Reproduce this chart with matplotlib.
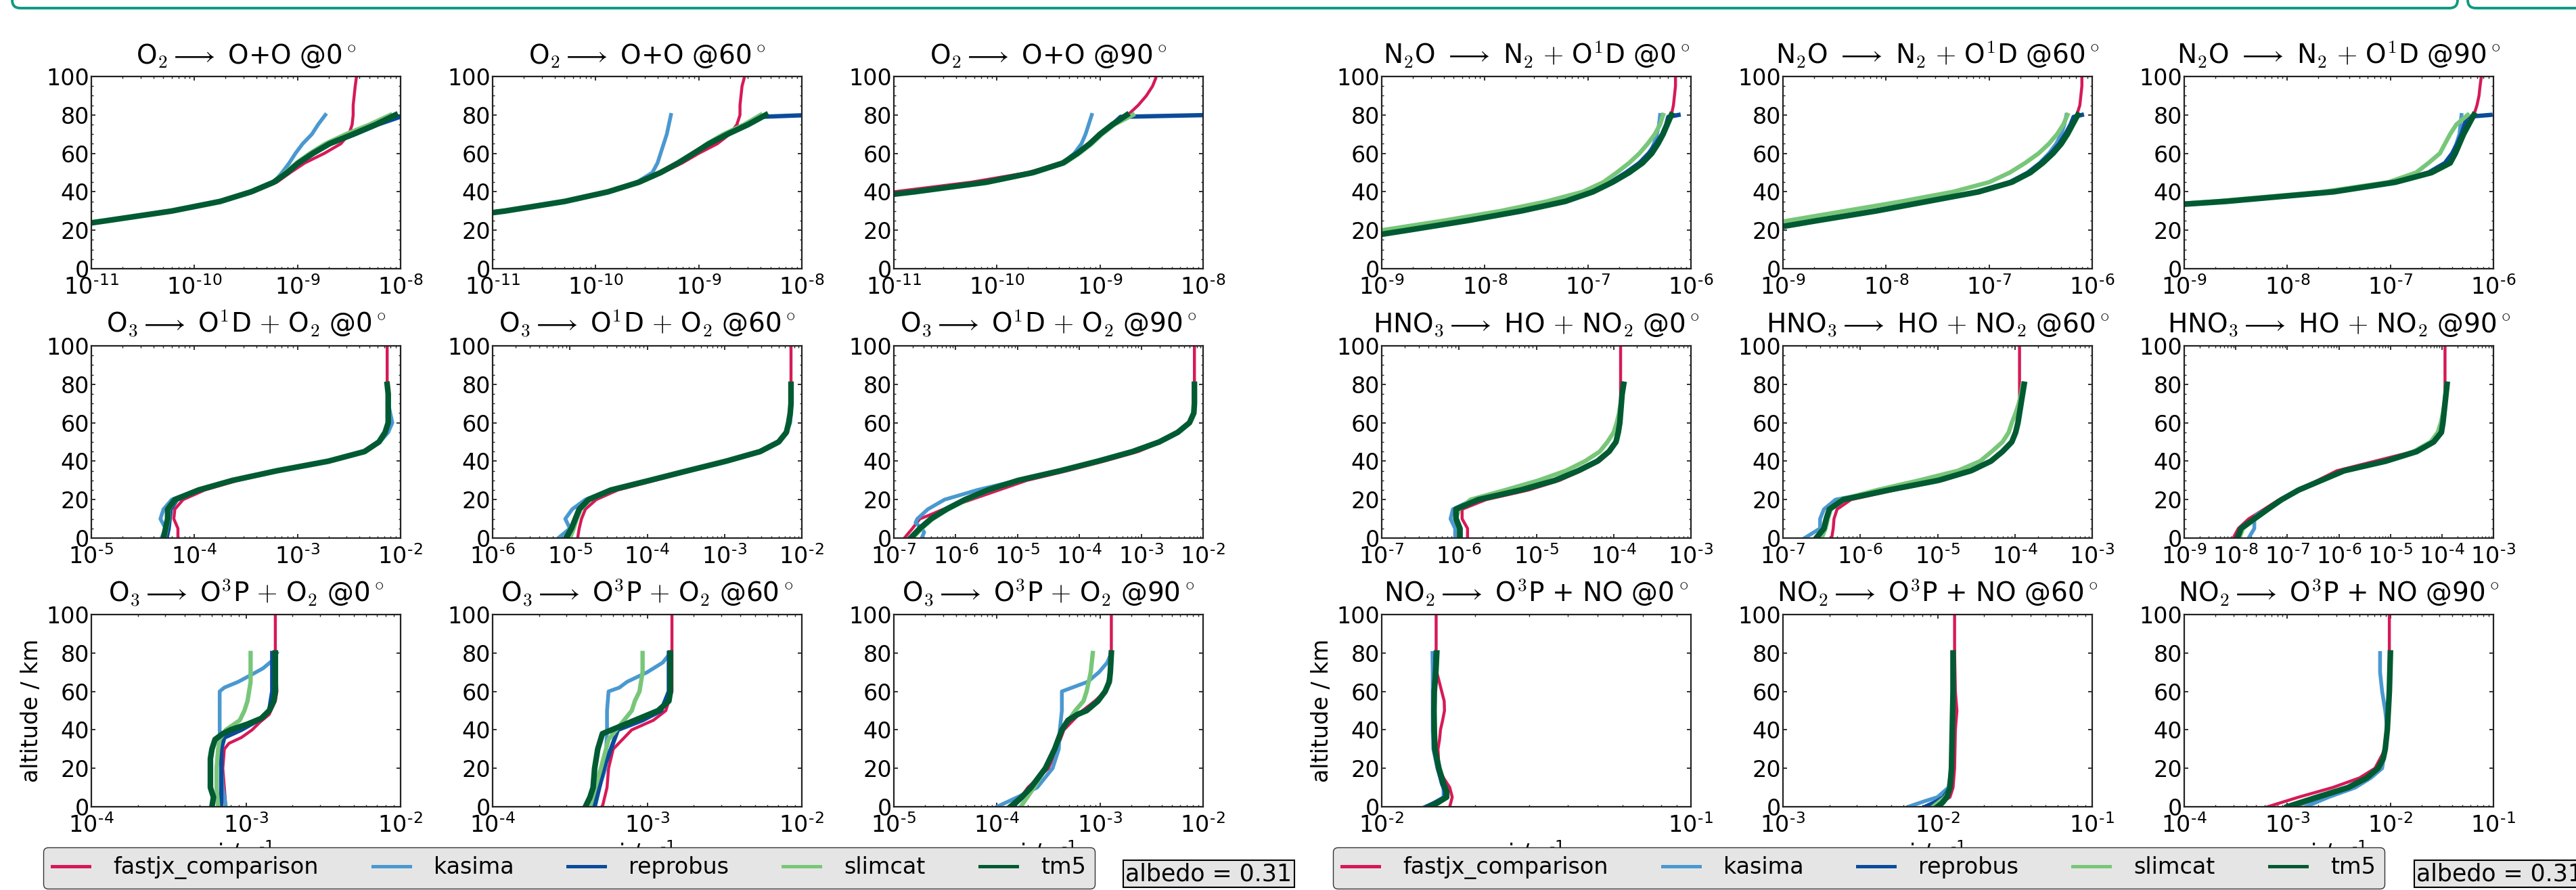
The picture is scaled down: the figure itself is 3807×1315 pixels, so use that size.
import matplotlib
matplotlib.use("Agg")
import matplotlib.pyplot as plt
import numpy as np
from matplotlib.patches import FancyBboxPatch
from matplotlib.lines import Line2D
from matplotlib.ticker import LogLocator, MultipleLocator, FuncFormatter, NullFormatter

plt.rcParams.update({'font.family': ['DejaVu Sans'], 'mathtext.fontset': 'cm',
                     'font.size': 24, 'axes.unicode_minus': False})

models = ['fastjx_comparison', 'kasima', 'reprobus', 'slimcat', 'tm5']
colors = ['#d61a57', '#4a98d0', '#0b4c9a', '#78c679', '#005a32']
widths = [3.2, 4.0, 4.6, 4.6, 6.0]

# altitude grids (km)
A0 = [0, 5, 10, 15, 20, 25, 30, 35, 40, 45, 50, 55, 60, 65, 70, 75, 80]
TOP = [85, 90, 95, 99]
A10 = A0[2:]
A15 = A0[3:]
A25 = A0[5:]
A30 = A0[6:]

# values are log10(j / s^-1)
o2_0 = {
    'fastjx_comparison': (A15 + TOP, [-12.05, -11.45, -10.8, -10.18, -9.72, -9.42, -9.2, -9.07, -8.93, -8.74, -8.58, -8.5, -8.47, -8.46, -8.46, -8.45, -8.44, -8.43]),
    'kasima': (A15, [-12.1, -11.5, -10.85, -10.22, -9.75, -9.45, -9.23, -9.15, -9.08, -9.02, -8.95, -8.86, -8.8, -8.73]),
    'reprobus': (A15, [-12.1, -11.5, -10.85, -10.22, -9.75, -9.45, -9.23, -9.1, -8.99, -8.85, -8.68, -8.44, -8.22, -7.95]),
    'slimcat': (A15, [-12.1, -11.5, -10.85, -10.22, -9.75, -9.45, -9.24, -9.12, -9.01, -8.88, -8.73, -8.53, -8.3, -8.1]),
    'tm5': (A15, [-12.1, -11.5, -10.85, -10.22, -9.75, -9.45, -9.23, -9.1, -8.99, -8.85, -8.69, -8.46, -8.24, -8.05]),
}
o2_60 = {
    'fastjx_comparison': (A15 + TOP, [-12.95, -12.25, -11.55, -10.85, -10.27, -9.85, -9.56, -9.35, -9.16, -9.0, -8.82, -8.7, -8.63, -8.6, -8.6, -8.59, -8.58, -8.56]),
    'kasima': (A15, [-13.0, -12.3, -11.6, -10.88, -10.3, -9.88, -9.6, -9.45, -9.4, -9.37, -9.34, -9.31, -9.29, -9.27]),
    'reprobus': (A15[:-1] + [79, 80], [-13.0, -12.3, -11.6, -10.88, -10.3, -9.88, -9.58, -9.37, -9.2, -9.05, -8.9, -8.72, -8.52, -8.4, -7.9]),
    'slimcat': (A15, [-13.0, -12.3, -11.6, -10.88, -10.3, -9.88, -9.58, -9.37, -9.2, -9.05, -8.92, -8.76, -8.56, -8.4]),
    'tm5': (A15, [-13.0, -12.3, -11.6, -10.88, -10.3, -9.88, -9.58, -9.37, -9.2, -9.05, -8.9, -8.72, -8.52, -8.35]),
}
o2_90 = {
    'fastjx_comparison': (A30 + TOP, [-12.7, -11.8, -11.0, -10.25, -9.7, -9.38, -9.22, -9.1, -8.98, -8.86, -8.73, -8.63, -8.55, -8.49, -8.46]),
    'kasima': (A30, [-12.5, -11.6, -10.8, -10.1, -9.65, -9.36, -9.25, -9.18, -9.14, -9.11, -9.08]),
    'reprobus': (A30[:-1] + [79, 80], [-12.5, -11.6, -10.8, -10.1, -9.65, -9.36, -9.22, -9.1, -9.0, -8.88, -8.8, -7.9]),
    'slimcat': (A30, [-12.5, -11.6, -10.8, -10.1, -9.63, -9.34, -9.2, -9.08, -8.98, -8.86, -8.68]),
    'tm5': (A30, [-12.5, -11.6, -10.8, -10.1, -9.65, -9.36, -9.22, -9.1, -9.0, -8.88, -8.74]),
}
n2o_0 = {
    'fastjx_comparison': (A10 + TOP, [-9.85, -9.3, -8.7, -8.12, -7.6, -7.2, -6.94, -6.76, -6.62, -6.5, -6.41, -6.33, -6.27, -6.22, -6.19, -6.17, -6.16, -6.15, -6.15]),
    'kasima': (A10, [-9.9, -9.35, -8.75, -8.17, -7.65, -7.22, -6.95, -6.76, -6.62, -6.5, -6.4, -6.36, -6.33, -6.31, -6.3]),
    'reprobus': (A10[:-1] + [79, 80], [-9.9, -9.35, -8.75, -8.17, -7.65, -7.22, -6.96, -6.78, -6.63, -6.5, -6.41, -6.34, -6.28, -6.24, -6.22, -6.12]),
    'slimcat': (A10, [-10.2, -9.6, -9.0, -8.4, -7.85, -7.4, -7.05, -6.85, -6.72, -6.6, -6.5, -6.42, -6.35, -6.3, -6.27]),
    'tm5': (A10, [-9.9, -9.35, -8.75, -8.17, -7.65, -7.22, -6.95, -6.76, -6.6, -6.47, -6.38, -6.32, -6.27, -6.23, -6.19]),
}
n2o_60 = {
    'fastjx_comparison': (A10 + TOP, [-10.15, -9.65, -9.17, -8.62, -8.05, -7.56, -7.08, -6.77, -6.6, -6.48, -6.38, -6.3, -6.24, -6.19, -6.15, -6.12, -6.11, -6.1, -6.1]),
    'kasima': (A10, [-10.2, -9.7, -9.22, -8.67, -8.1, -7.6, -7.1, -6.8, -6.63, -6.51, -6.42, -6.35, -6.3, -6.27, -6.25]),
    'reprobus': (A10[:-1] + [79, 80], [-10.2, -9.7, -9.22, -8.67, -8.1, -7.6, -7.12, -6.8, -6.62, -6.5, -6.4, -6.32, -6.26, -6.21, -6.18, -6.1]),
    'slimcat': (A10, [-10.5, -10.0, -9.5, -8.95, -8.4, -7.85, -7.35, -7.0, -6.8, -6.65, -6.52, -6.42, -6.34, -6.28, -6.24]),
    'tm5': (A10, [-10.2, -9.7, -9.22, -8.67, -8.1, -7.6, -7.1, -6.78, -6.6, -6.48, -6.38, -6.3, -6.24, -6.19, -6.14]),
}
n2o_90 = {
    'fastjx_comparison': (A25 + TOP, [-11.4, -9.9, -8.5, -7.5, -6.93, -6.62, -6.46, -6.38, -6.33, -6.28, -6.23, -6.19, -6.16, -6.14, -6.13, -6.12]),
    'kasima': (A25, [-11.5, -10.0, -8.6, -7.55, -6.97, -6.63, -6.47, -6.4, -6.36, -6.33, -6.32, -6.31]),
    'reprobus': (A25[:-1] + [79, 80], [-11.5, -10.0, -8.6, -7.55, -6.97, -6.63, -6.47, -6.4, -6.35, -6.31, -6.28, -6.26, -6.03]),
    'slimcat': (A25, [-11.6, -10.1, -8.7, -7.65, -7.02, -6.75, -6.63, -6.52, -6.47, -6.42, -6.36, -6.25]),
    'tm5': (A25, [-11.5, -10.0, -8.6, -7.55, -6.95, -6.6, -6.42, -6.37, -6.33, -6.29, -6.24, -6.19]),
}

o3_o1d_0 = {
    'fastjx_comparison': (A0 + TOP, [-4.16, -4.16, -4.2, -4.19, -4.11, -3.9, -3.58, -3.17, -2.68, -2.33, -2.2, -2.15, -2.13, -2.13, -2.13, -2.13, -2.13, -2.13, -2.13, -2.13, -2.13]),
    'kasima': (A0, [-4.32, -4.28, -4.33, -4.30, -4.22, -3.97, -3.64, -3.21, -2.71, -2.36, -2.2, -2.12, -2.08, -2.1, -2.12, -2.12, -2.13]),
    'reprobus': (A0, [-4.27, -4.25, -4.24, -4.23, -4.17, -3.95, -3.62, -3.2, -2.7, -2.35, -2.21, -2.15, -2.12, -2.12, -2.12, -2.12, -2.13]),
    'slimcat': (A0, [-4.29, -4.27, -4.25, -4.25, -4.18, -3.95, -3.62, -3.19, -2.69, -2.35, -2.21, -2.15, -2.12, -2.12, -2.12, -2.12, -2.13]),
    'tm5': (A0, [-4.30, -4.28, -4.26, -4.26, -4.19, -3.96, -3.63, -3.2, -2.7, -2.35, -2.21, -2.15, -2.12, -2.12, -2.12, -2.12, -2.13]),
}
o3_o1d_60 = {
    'fastjx_comparison': (A0 + TOP, [-4.9, -4.88, -4.85, -4.8, -4.66, -4.38, -3.9, -3.43, -2.94, -2.51, -2.28, -2.19, -2.16, -2.15, -2.14, -2.14, -2.14, -2.14, -2.14, -2.14, -2.14]),
    'kasima': (A0, [-5.15, -5.0, -5.06, -4.97, -4.8, -4.49, -3.98, -3.49, -2.99, -2.55, -2.3, -2.2, -2.15, -2.14, -2.14, -2.14, -2.14]),
    'reprobus': (A0, [-5.02, -4.96, -4.92, -4.87, -4.75, -4.46, -3.97, -3.48, -2.98, -2.54, -2.3, -2.2, -2.17, -2.15, -2.14, -2.14, -2.14]),
    'slimcat': (A0, [-5.0, -4.95, -4.91, -4.86, -4.74, -4.45, -3.96, -3.47, -2.97, -2.53, -2.3, -2.2, -2.17, -2.15, -2.14, -2.14, -2.14]),
    'tm5': (A0, [-5.05, -4.98, -4.93, -4.88, -4.76, -4.47, -3.97, -3.48, -2.98, -2.54, -2.3, -2.2, -2.17, -2.15, -2.14, -2.14, -2.14]),
}
o3_o1d_90 = {
    'fastjx_comparison': ([0, 5, 10, 12] + A15 + TOP, [-6.83, -6.7, -6.58, -6.42, -6.2, -5.75, -5.3, -4.85, -4.2, -3.6, -3.05, -2.68, -2.4, -2.22, -2.15, -2.14, -2.14, -2.14, -2.14, -2.14, -2.14, -2.14]),
    'kasima': ([0, 3, 5, 8, 10] + A15, [-6.55, -6.51, -6.55, -6.65, -6.62, -6.45, -6.18, -5.65, -5.0, -4.31, -3.70, -3.14, -2.71, -2.41, -2.22, -2.15, -2.14, -2.14, -2.14]),
    'reprobus': (A0, [-6.71, -6.56, -6.39, -6.14, -5.84, -5.47, -4.98, -4.3, -3.69, -3.13, -2.7, -2.4, -2.22, -2.15, -2.14, -2.14, -2.14]),
    'slimcat': (A0, [-6.7, -6.55, -6.37, -6.12, -5.82, -5.45, -4.96, -4.28, -3.67, -3.12, -2.7, -2.4, -2.22, -2.15, -2.14, -2.14, -2.14]),
    'tm5': (A0, [-6.73, -6.58, -6.40, -6.15, -5.85, -5.48, -4.99, -4.31, -3.70, -3.14, -2.71, -2.41, -2.22, -2.15, -2.14, -2.14, -2.14]),
}
hno3_0 = {
    'fastjx_comparison': (A0 + TOP, [-5.89, -5.89, -5.96, -5.96, -5.65, -5.1, -4.7, -4.42, -4.18, -4.04, -3.96, -3.93, -3.92, -3.91, -3.91, -3.91, -3.91, -3.91, -3.91, -3.91, -3.91]),
    'kasima': (A0, [-6.05, -6.05, -6.11, -6.08, -5.82, -5.22, -4.77, -4.47, -4.22, -4.06, -3.97, -3.94, -3.92, -3.91, -3.9, -3.89, -3.88]),
    'reprobus': (A0, [-5.98, -5.98, -6.03, -6.03, -5.76, -5.21, -4.77, -4.46, -4.21, -4.06, -3.97, -3.94, -3.92, -3.91, -3.9, -3.89, -3.88]),
    'slimcat': (A0, [-6.0, -6.0, -6.04, -6.0, -5.85, -5.4, -4.97, -4.62, -4.37, -4.18, -4.08, -4.0, -3.96, -3.93, -3.91, -3.89, -3.87]),
    'tm5': (A0, [-5.99, -5.99, -6.04, -6.04, -5.75, -5.2, -4.76, -4.46, -4.21, -4.06, -3.97, -3.94, -3.92, -3.91, -3.9, -3.89, -3.87]),
}
hno3_60 = {
    'fastjx_comparison': (A0 + TOP, [-6.37, -6.35, -6.34, -6.3, -6.12, -5.55, -4.93, -4.53, -4.29, -4.15, -4.04, -3.99, -3.96, -3.95, -3.94, -3.94, -3.94, -3.94, -3.94, -3.94, -3.94]),
    'kasima': (A0, [-6.72, -6.52, -6.52, -6.47, -6.32, -5.68, -5.01, -4.58, -4.31, -4.16, -4.04, -3.99, -3.96, -3.94, -3.92, -3.9, -3.89]),
    'reprobus': (A0, [-6.55, -6.46, -6.43, -6.39, -6.21, -5.62, -4.99, -4.57, -4.31, -4.16, -4.04, -3.99, -3.96, -3.94, -3.92, -3.9, -3.89]),
    'slimcat': (A0, [-6.5, -6.45, -6.42, -6.38, -6.25, -5.78, -5.24, -4.74, -4.45, -4.3, -4.16, -4.08, -4.04, -3.99, -3.95, -3.92, -3.9]),
    'tm5': (A0, [-6.57, -6.47, -6.44, -6.4, -6.22, -5.63, -4.99, -4.57, -4.31, -4.16, -4.04, -3.99, -3.96, -3.94, -3.92, -3.9, -3.88]),
}
hno3_90 = {
    'fastjx_comparison': (A0 + TOP, [-8.05, -7.95, -7.75, -7.45, -7.16, -6.78, -6.41, -6.04, -5.3, -4.56, -4.19, -4.05, -4.0, -3.97, -3.95, -3.94, -3.94, -3.94, -3.94, -3.94, -3.94]),
    'kasima': ([0, 5, 10, 12] + A15, [-7.75, -7.64, -7.64, -7.6, -7.4, -7.12, -6.78, -6.34, -5.9, -5.09, -4.49, -4.16, -4.01, -3.98, -3.96, -3.94, -3.92, -3.9]),
    'reprobus': (A0, [-7.95, -7.88, -7.63, -7.37, -7.1, -6.77, -6.33, -5.88, -5.08, -4.5, -4.18, -4.03, -3.99, -3.96, -3.94, -3.92, -3.9]),
    'slimcat': (A0, [-7.93, -7.86, -7.62, -7.36, -7.1, -6.77, -6.33, -5.88, -5.1, -4.55, -4.22, -4.08, -4.02, -3.98, -3.95, -3.93, -3.91]),
    'tm5': (A0, [-7.97, -7.9, -7.64, -7.38, -7.11, -6.78, -6.34, -5.9, -5.09, -4.49, -4.16, -4.01, -3.98, -3.96, -3.94, -3.92, -3.9]),
}

o3_o3p_0 = {
    'fastjx_comparison': ([0, 10, 20, 30, 33, 36, 40, 44, 48, 55, 60, 80, 99], [-3.13, -3.14, -3.15, -3.14, -3.11, -3.03, -2.96, -2.91, -2.85, -2.81, -2.8, -2.81, -2.81]),
    'kasima': ([0, 5, 10, 20, 30, 40, 50, 60, 62, 65, 68, 72, 76, 80], [-3.13, -3.14, -3.15, -3.16, -3.17, -3.17, -3.17, -3.17, -3.14, -3.05, -2.98, -2.89, -2.83, -2.8]),
    'reprobus': ([0, 10, 20, 30, 36, 40, 45, 50, 60, 80], [-3.16, -3.16, -3.16, -3.16, -3.14, -3.03, -2.92, -2.85, -2.83, -2.83]),
    'slimcat': ([0, 10, 20, 30, 35, 40, 45, 50, 55, 60, 65, 70, 75, 80], [-3.18, -3.19, -3.19, -3.18, -3.17, -3.13, -3.04, -3.01, -2.99, -2.98, -2.97, -2.97, -2.97, -2.97]),
    'tm5': ([0, 5, 10, 15, 20, 25, 30, 35, 38, 40, 43, 46, 50, 55, 60, 65, 70, 75, 80], [-3.22, -3.21, -3.23, -3.23, -3.23, -3.23, -3.22, -3.2, -3.15, -3.10, -2.99, -2.9, -2.85, -2.82, -2.81, -2.81, -2.81, -2.81, -2.81]),
}
o3_o3p_60 = {
    'fastjx_comparison': ([0, 10, 20, 30, 40, 45, 50, 60, 80, 99], [-3.29, -3.26, -3.25, -3.22, -3.1, -2.96, -2.88, -2.84, -2.84, -2.84]),
    'kasima': ([0, 20, 40, 50, 60, 62, 65, 70, 75, 80], [-3.35, -3.27, -3.26, -3.26, -3.25, -3.18, -3.13, -3.0, -2.9, -2.85]),
    'reprobus': ([0, 20, 40, 45, 50, 60, 80], [-3.34, -3.28, -3.19, -3.03, -2.91, -2.86, -2.86]),
    'slimcat': ([0, 20, 35, 40, 45, 50, 55, 60, 70, 80], [-3.37, -3.30, -3.25, -3.2, -3.15, -3.1, -3.08, -3.05, -3.03, -3.03]),
    'tm5': ([0, 5, 10, 20, 30, 38, 40, 45, 50, 55, 60, 70, 80], [-3.40, -3.37, -3.35, -3.34, -3.32, -3.29, -3.23, -3.08, -2.93, -2.86, -2.85, -2.85, -2.85]),
}
o3_o3p_90 = {
    'fastjx_comparison': ([0, 10, 20, 30, 40, 50, 55, 60, 70, 80, 99], [-3.83, -3.7, -3.5, -3.42, -3.35, -3.17, -3.05, -2.95, -2.9, -2.89, -2.89]),
    'kasima': ([0, 5, 10, 20, 30, 40, 50, 60, 62, 65, 70, 75, 80], [-4.0, -3.8, -3.61, -3.46, -3.40, -3.39, -3.37, -3.37, -3.27, -3.12, -3.01, -2.93, -2.89]),
    'reprobus': ([0, 5, 10, 20, 30, 40, 45, 48, 50, 55, 60, 65, 70, 80], [-3.85, -3.75, -3.66, -3.53, -3.44, -3.37, -3.3, -3.21, -3.13, -3.02, -2.95, -2.91, -2.9, -2.89]),
    'slimcat': ([0, 10, 20, 30, 40, 50, 55, 60, 70, 80], [-3.77, -3.64, -3.53, -3.44, -3.37, -3.24, -3.16, -3.13, -3.09, -3.07]),
    'tm5': ([0, 5, 10, 20, 30, 40, 45, 48, 50, 55, 60, 65, 70, 80], [-3.87, -3.76, -3.67, -3.53, -3.44, -3.37, -3.31, -3.22, -3.13, -3.02, -2.95, -2.91, -2.9, -2.89]),
}
no2_0 = {
    'fastjx_comparison': ([0, 5, 10, 15, 20, 30, 35, 40, 45, 50, 55, 60, 70, 80, 99], [-1.78, -1.772, -1.78, -1.80, -1.815, -1.818, -1.813, -1.81, -1.803, -1.797, -1.798, -1.806, -1.822, -1.824, -1.824]),
    'kasima': ([0, 2, 5, 10, 20, 30, 40, 60, 70, 80], [-1.86, -1.83, -1.80, -1.80, -1.82, -1.833, -1.835, -1.835, -1.835, -1.836]),
    'reprobus': ([0, 2, 5, 8, 12, 20, 30, 40, 50, 60, 70, 80], [-1.855, -1.83, -1.795, -1.795, -1.805, -1.818, -1.83, -1.832, -1.832, -1.832, -1.828, -1.826]),
    'slimcat': ([0, 2, 5, 8, 12, 20, 30, 40, 50, 60, 70, 80], [-1.845, -1.82, -1.79, -1.79, -1.80, -1.815, -1.828, -1.83, -1.83, -1.83, -1.826, -1.824]),
    'tm5': ([0, 2, 5, 8, 12, 20, 30, 40, 50, 60, 70, 80], [-1.847, -1.82, -1.79, -1.79, -1.80, -1.815, -1.828, -1.83, -1.831, -1.83, -1.825, -1.822]),
}
no2_60 = {
    'fastjx_comparison': ([0, 5, 10, 20, 40, 50, 60, 80, 99], [-2.02, -1.92, -1.9, -1.89, -1.885, -1.875, -1.885, -1.89, -1.89]),
    'kasima': ([0, 3, 5, 10, 20, 40, 60, 80], [-2.19, -2.08, -2.0, -1.93, -1.91, -1.905, -1.90, -1.90]),
    'reprobus': ([0, 3, 5, 10, 20, 40, 60, 80], [-2.08, -2.0, -1.96, -1.92, -1.91, -1.905, -1.90, -1.90]),
    'slimcat': ([0, 5, 10, 20, 40, 60, 80], [-2.03, -1.95, -1.92, -1.91, -1.905, -1.90, -1.90]),
    'tm5': ([0, 2, 5, 10, 20, 40, 60, 80], [-2.0, -1.97, -1.94, -1.92, -1.91, -1.905, -1.90, -1.90]),
}
no2_90 = {
    'fastjx_comparison': ([0, 5, 10, 15, 20, 30, 40, 60, 80, 99], [-3.19, -2.89, -2.56, -2.3, -2.15, -2.05, -2.03, -2.01, -2.01, -2.01]),
    'kasima': ([0, 5, 10, 15, 20, 30, 40, 50, 60, 70, 80], [-2.82, -2.6, -2.34, -2.19, -2.08, -2.05, -2.03, -2.05, -2.08, -2.1, -2.1]),
    'reprobus': ([0, 5, 10, 15, 20, 25, 30, 40, 60, 80], [-2.95, -2.68, -2.4, -2.22, -2.12, -2.07, -2.05, -2.03, -2.01, -2.0]),
    'slimcat': ([0, 5, 10, 15, 20, 25, 30, 40, 60, 80], [-2.97, -2.69, -2.4, -2.22, -2.11, -2.07, -2.05, -2.03, -2.01, -2.0]),
    'tm5': ([0, 5, 10, 15, 20, 25, 30, 40, 60, 80], [-3.0, -2.71, -2.41, -2.23, -2.12, -2.07, -2.05, -2.03, -2.01, -2.0]),
}

panels = [[o2_0, o2_60, o2_90, n2o_0, n2o_60, n2o_90],
          [o3_o1d_0, o3_o1d_60, o3_o1d_90, hno3_0, hno3_60, hno3_90],
          [o3_o3p_0, o3_o3p_60, o3_o3p_90, no2_0, no2_60, no2_90]]
xlims = [[(-11, -8), (-11, -8), (-11, -8), (-9, -6), (-9, -6), (-9, -6)],
         [(-5, -2), (-6, -2), (-7, -2), (-7, -3), (-7, -3), (-9, -3)],
         [(-4, -2), (-4, -2), (-5, -2), (-2, -1), (-3, -1), (-4, -1)]]
reactions = [[r'O$_2\longrightarrow$ O+O', r'N$_2$O $\longrightarrow$ N$_2$ ${+}$ O$^1$D'],
             [r'O$_3\longrightarrow$ O$^1$D ${+}$ O$_2$', r'HNO$_3\longrightarrow$ HO ${+}$ NO$_2$'],
             [r'O$_3\longrightarrow$ O$^3$P ${+}$ O$_2$', r'NO$_2\longrightarrow$ O$^3$P + NO']]
angles = [0, 60, 90]
albedo = 0.31

W, H = 3807, 1315
fig = plt.figure(figsize=(W / 100, H / 100), dpi=100)

# slide frames along the top edge
for x0, x1 in [(18, 3632), (3647, 3900)]:
    fig.add_artist(FancyBboxPatch((x0 / 100, (H - 12) / 100), (x1 - x0) / 100, 2.0,
                                  boxstyle='round,pad=0,rounding_size=0.12',
                                  transform=fig.dpi_scale_trans, fc='none',
                                  ec='#0d9a82', lw=2.8))

col_left = [135, 728, 1321, 2042, 2635, 3228]
row_top = [113, 511, 908]
AW, AH = 457, 284
HYPHEN = '\u2010'

def exp_label(v, pos):
    e = int(round(np.log10(v)))
    return r'10$^{\mathregular{%s%d}}$' % (HYPHEN if e < 0 else '', abs(e))

for r in range(3):
    for c in range(6):
        ax = fig.add_axes([col_left[c] / W, 1 - (row_top[r] + AH) / H, AW / W, AH / H])
        data = panels[r][c]
        for m, col, lw in zip(models, colors, widths):
            alt, lj = data[m]
            ax.plot(10.0 ** np.array(lj), alt, color=col, lw=lw)
        lo, hi = xlims[r][c]
        ax.set_xscale('log')
        ax.set_xlim(10.0 ** lo, 10.0 ** hi)
        ax.set_ylim(0, 100)
        ax.set_yticks([0, 20, 40, 60, 80, 100])
        if r < 2:
            ax.yaxis.set_minor_locator(MultipleLocator(5))
        ax.xaxis.set_major_locator(LogLocator(base=10, numticks=30))
        ax.xaxis.set_minor_locator(LogLocator(base=10, subs=np.arange(2, 10), numticks=200))
        ax.xaxis.set_major_formatter(FuncFormatter(exp_label))
        ax.xaxis.set_minor_formatter(NullFormatter())
        ax.tick_params(which='both', direction='in', top=True, right=True, color='#222222')
        ax.tick_params(which='major', length=4.5, width=1.3, labelsize=24)
        ax.tick_params(which='minor', length=2.5, width=1.0)
        ax.tick_params(axis='x', pad=8)
        ax.tick_params(axis='y', pad=2)
        for s in ax.spines.values():
            s.set_linewidth(1.6)
            s.set_color('#222222')
        ax.set_title(reactions[r][c // 3] + r' @%d$^\circ$' % angles[c % 3], fontsize=28, pad=14)
        if r == 2:
            ax.set_xlabel(r'j / s$^{\mathregular{%s1}}$' % HYPHEN, fontsize=24, labelpad=2)
            if c in (0, 3):
                ax.set_ylabel('altitude / km', fontsize=24, labelpad=4)

handles = [Line2D([], [], color=col, lw=3.6) for col in colors]
for lx, ax_x in [(64, 1663), (1970, 3571)]:
    fig.legend(handles, models, loc='upper left', bbox_to_anchor=(lx / W, 1 - 1252 / H),
               ncol=5, fontsize=24, fancybox=True, framealpha=1, facecolor='#e5e5e5',
               edgecolor='#333333', handlelength=1.65, handletextpad=1.05,
               columnspacing=2.4, borderaxespad=0)
    fig.text(ax_x / W, 1 - 1291 / H, 'albedo = %.2f' % albedo, fontsize=25, va='center', ha='left',
             bbox=dict(boxstyle='square,pad=0.1', fc='#e5e5e5', ec='black', lw=1.5))

fig.savefig('out.png', dpi=100)
